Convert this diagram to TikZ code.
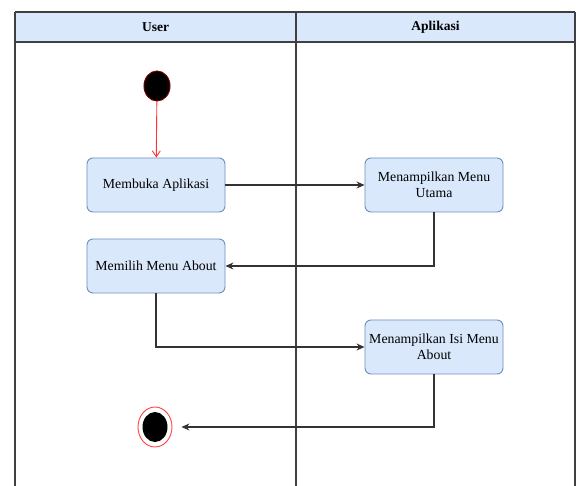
\documentclass[tikz,border=0pt]{standalone}
\usepackage{fontspec}
\setmainfont{Liberation Serif}
\usetikzlibrary{arrows.meta,shapes.geometric}
\definecolor{lanefill}{HTML}{DAE8FC}
\definecolor{boxline}{HTML}{6C8EBF}
\begin{document}
\begin{tikzpicture}[x=1pt, y=-1pt,
	act/.style={draw=boxline, fill=lanefill, rounded corners=6pt, line width=0.9pt,
		minimum width=138pt, minimum height=54pt, align=center, font=\fontsize{13.8}{16}\selectfont, inner sep=1pt},
	flow/.style={draw=black!80, line width=1.2pt, -{Stealth[length=8pt,width=7pt]}},
	lane/.style={font=\bfseries\fontsize{13.5}{15}\selectfont}]
	\useasboundingbox (0,0) rectangle (576,486);
	
	% swimlanes
	\fill[lanefill] (15,12) rectangle (575,42);
	\draw[line width=1.2pt, black!75] (15,12) -- (575,12);
	\draw[line width=1.2pt, black!75] (15,42) -- (575,42);
	\draw[line width=1.2pt, black!75] (15,12) -- (15,486);
	\draw[line width=1.2pt, black!75] (296,12) -- (296,486);
	\draw[line width=1.2pt, black!75] (575,12) -- (575,486);
	\node[lane] (user) at (155.5,27) {User};
	\node[lane] (app) at (435.5,27) {Aplikasi};
	
	\node[ellipse, minimum width=26pt, minimum height=30pt, inner sep=0pt, fill=black, draw=red!45!black, line width=1pt] (start) at (157,86) {};
	\node[act] (open) at (156,185) {Membuka Aplikasi};
	\node[act] (mainmenu) at (434,185) {Menampilkan Menu\\Utama};
	\node[act] (about) at (156,266) {Memilih Menu About};
	\node[act] (aboutinfo) at (434,347) {Menampilkan Isi Menu\\About};
	\node[ellipse, minimum width=34pt, minimum height=40pt, inner sep=0pt, fill=white, draw=red!75, line width=0.9pt] (stop) at (155,427) {};
	\node[ellipse, minimum width=25pt, minimum height=30pt, inner sep=0pt, fill=black] (stopdot) at (stop.center) {};
	
	\draw[red!80, line width=0.9pt, -{Straight Barb[length=6pt,width=8pt]}] (start) -- (open);
	\draw[flow] (open) -- (mainmenu);
	\draw[flow] (mainmenu.south) |- (about.east);
	\draw[flow] (about.south) |- (aboutinfo.west);
	\draw[flow, shorten >=9pt] (aboutinfo.south) |- (stop.east);
\end{tikzpicture}
\end{document}
